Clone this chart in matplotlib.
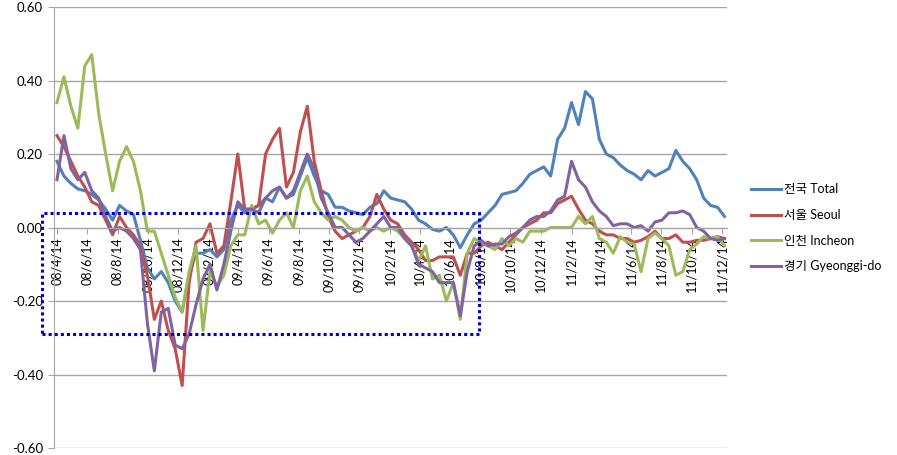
import numpy as np
import pandas as pd
import matplotlib
matplotlib.use('Agg')
import matplotlib.pyplot as plt
import matplotlib.dates as mdates
from matplotlib.patches import Rectangle

plt.rcParams['font.family'] = ['Lato', 'Noto Sans CJK KR', 'DejaVu Sans']
plt.rcParams['axes.unicode_minus'] = False

# bi-weekly readings, starting 2008-04-14
dates = pd.date_range('2008-04-14', periods=97, freq='14D')

total = [0.18, 0.14, 0.12, 0.105, 0.10, 0.09, 0.075, 0.05, 0.02, 0.06,
         0.045, 0.035, -0.035, -0.11, -0.14, -0.12, -0.15, -0.20, -0.23, -0.13,
         -0.07, -0.07, -0.06, -0.08, -0.06, 0.02, 0.06, 0.04, 0.05, 0.06,
         0.08, 0.07, 0.11, 0.08, 0.09, 0.14, 0.19, 0.14, 0.10,
         0.09, 0.055, 0.055, 0.045, 0.04, 0.035, 0.055, 0.065, 0.10, 0.08,
         0.075, 0.07, 0.05, 0.02, 0.01, -0.005, -0.01, 0.00, -0.02, -0.055,
         -0.02, 0.01, 0.02, 0.04, 0.06, 0.09, 0.095, 0.10, 0.12, 0.145,
         0.155, 0.165, 0.14, 0.24, 0.27, 0.34, 0.28, 0.37, 0.35,
         0.24, 0.20, 0.19, 0.17, 0.155, 0.145, 0.13, 0.155, 0.14, 0.15,
         0.16, 0.21, 0.18, 0.16, 0.13, 0.08, 0.06, 0.055, 0.03]

seoul = [0.25, 0.22, 0.18, 0.14, 0.11, 0.07, 0.06, 0.02, -0.02, 0.03,
         0.00, -0.02, -0.05, -0.13, -0.25, -0.20, -0.28, -0.33, -0.43, -0.15,
         -0.04, -0.03, 0.01, -0.07, -0.05, 0.07, 0.20, 0.05, 0.05, 0.06,
         0.20, 0.24, 0.27, 0.11, 0.15, 0.26, 0.33, 0.18, 0.10,
         0.03, -0.01, -0.03, -0.02, -0.01, 0.00, 0.03, 0.09, 0.05, 0.02,
         0.01, -0.02, -0.04, -0.06, -0.09, -0.09, -0.08, -0.08, -0.08, -0.13,
         -0.07, -0.07, -0.05, -0.04, -0.05, -0.06, -0.04, -0.02, 0.00, 0.01,
         0.02, 0.04, 0.04, 0.065, 0.075, 0.085, 0.05, 0.02, 0.01,
         -0.01, -0.02, -0.02, -0.03, -0.03, -0.04, -0.035, -0.025, -0.01, -0.03,
         -0.03, -0.02, -0.04, -0.04, -0.035, -0.035, -0.03, -0.025, -0.03]

incheon = [0.34, 0.41, 0.33, 0.27, 0.44, 0.47, 0.31, 0.20, 0.10, 0.18,
           0.22, 0.18, 0.10, -0.01, -0.01, -0.07, -0.13, -0.19, -0.23, -0.12,
           -0.05, -0.28, -0.12, -0.16, -0.13, -0.05, -0.02, -0.02, 0.06, 0.01,
           0.02, -0.015, 0.02, 0.04, 0.00, 0.10, 0.14, 0.07, 0.04,
           0.02, 0.03, 0.02, 0.00, -0.01, 0.00, -0.01, 0.00, -0.01, 0.00,
           -0.01, -0.03, -0.05, -0.09, -0.05, -0.14, -0.13, -0.20, -0.15, -0.25,
           -0.07, -0.03, -0.04, -0.05, -0.06, -0.03, -0.05, -0.03, -0.04, -0.01,
           -0.01, -0.01, 0.00, 0.00, 0.00, 0.00, 0.03, 0.01, 0.03,
           -0.03, -0.04, -0.07, -0.025, -0.04, -0.045, -0.12, -0.03, -0.015, -0.03,
           -0.05, -0.13, -0.12, -0.06, -0.045, -0.025, -0.03, -0.025, -0.05]

gyeonggi = [0.13, 0.25, 0.16, 0.13, 0.15, 0.10, 0.08, 0.03, -0.01, 0.00,
            -0.01, -0.03, -0.06, -0.26, -0.39, -0.23, -0.22, -0.32, -0.33, -0.29,
            -0.21, -0.14, -0.10, -0.17, -0.10, -0.01, 0.07, 0.05, 0.05, 0.04,
            0.08, 0.10, 0.11, 0.08, 0.10, 0.15, 0.20, 0.16, 0.08,
            0.04, 0.00, 0.00, -0.02, -0.04, -0.03, -0.01, 0.01, 0.03, 0.00,
            0.00, -0.03, -0.05, -0.10, -0.11, -0.12, -0.15, -0.15, -0.15, -0.24,
            -0.12, -0.05, -0.035, -0.05, -0.045, -0.045, -0.025, -0.015, 0.00, 0.02,
            0.03, 0.03, 0.045, 0.075, 0.085, 0.18, 0.13, 0.11, 0.07,
            0.045, 0.03, 0.005, 0.01, 0.01, 0.00, 0.005, -0.01, 0.015, 0.02,
            0.04, 0.04, 0.045, 0.035, 0.00, -0.01, -0.03, -0.035, -0.03]

series_names = ['전국 Total', '서울 Seoul', '인천 Incheon', '경기 Gyeonggi-do']
colors = ['#4F81BD', '#C0504D', '#9BBB59', '#8064A2']

tick_labels = ['08/4/14', '08/6/14', '08/8/14', '08/10/14', '08/12/14',
               '09/2/14', '09/4/14', '09/6/14', '09/8/14', '09/10/14', '09/12/14',
               '10/2/14', '10/4/14', '10/6/14', '10/8/14', '10/10/14', '10/12/14',
               '11/2/14', '11/4/14', '11/6/14', '11/8/14', '11/10/14', '11/12/14']
tick_dates = [pd.Timestamp(2000 + int(s.split('/')[0]), int(s.split('/')[1]), 14) for s in tick_labels]

# dotted highlight box
box_start, box_end = pd.Timestamp('2008-03-14'), pd.Timestamp('2010-08-12')
box_top, box_bottom = 0.04, -0.29

fig = plt.figure(figsize=(8.97, 4.55), dpi=100)
ax = fig.add_axes([54/897, 1-448/455, (727-54)/897, (448-7)/455])

for vals, name, c in zip([total, seoul, incheon, gyeonggi], series_names, colors):
    ax.plot(dates, vals, color=c, lw=2.2, label=name, solid_joinstyle='round')

# axis crosses at zero (set before tick labels, it resets ticks)
for s in ['top', 'right']:
    ax.spines[s].set_visible(False)
ax.spines['bottom'].set_position(('data', 0))
ax.spines['bottom'].set_color('#A6A6A6')
ax.spines['left'].set_color('#A6A6A6')

ax.set_ylim(-0.6, 0.6)
ax.set_yticks(np.arange(-0.6, 0.61, 0.2))
ax.set_yticklabels(['%.2f' % v for v in np.arange(-0.6, 0.61, 0.2)], fontsize=9.5)
ax.set_xlim(pd.Timestamp('2008-04-08'), pd.Timestamp('2011-12-24'))
ax.set_xticks(tick_dates)
ax.set_xticklabels(tick_labels, fontsize=9)
ax.tick_params(axis='x', length=4, color='#A6A6A6', pad=3, labelrotation=90)
ax.tick_params(axis='y', length=4, color='#A6A6A6', pad=4)

ax.grid(axis='y', color='#A6A6A6', lw=1)
ax.set_axisbelow(True)

x0 = mdates.date2num(box_start)
x1 = mdates.date2num(box_end)
ax.add_patch(Rectangle((x0, box_bottom), x1 - x0, box_top - box_bottom, fill=False,
                       edgecolor='#0000CC', lw=2.2, linestyle=(0, (1, 1)), clip_on=False, zorder=5))

fig.legend(loc='upper left', bbox_to_anchor=(740/897, 1-172/455), frameon=False,
           fontsize=9, handlelength=2.4, handletextpad=0.2, labelspacing=1.1)

fig.savefig('out.png', dpi=100)
